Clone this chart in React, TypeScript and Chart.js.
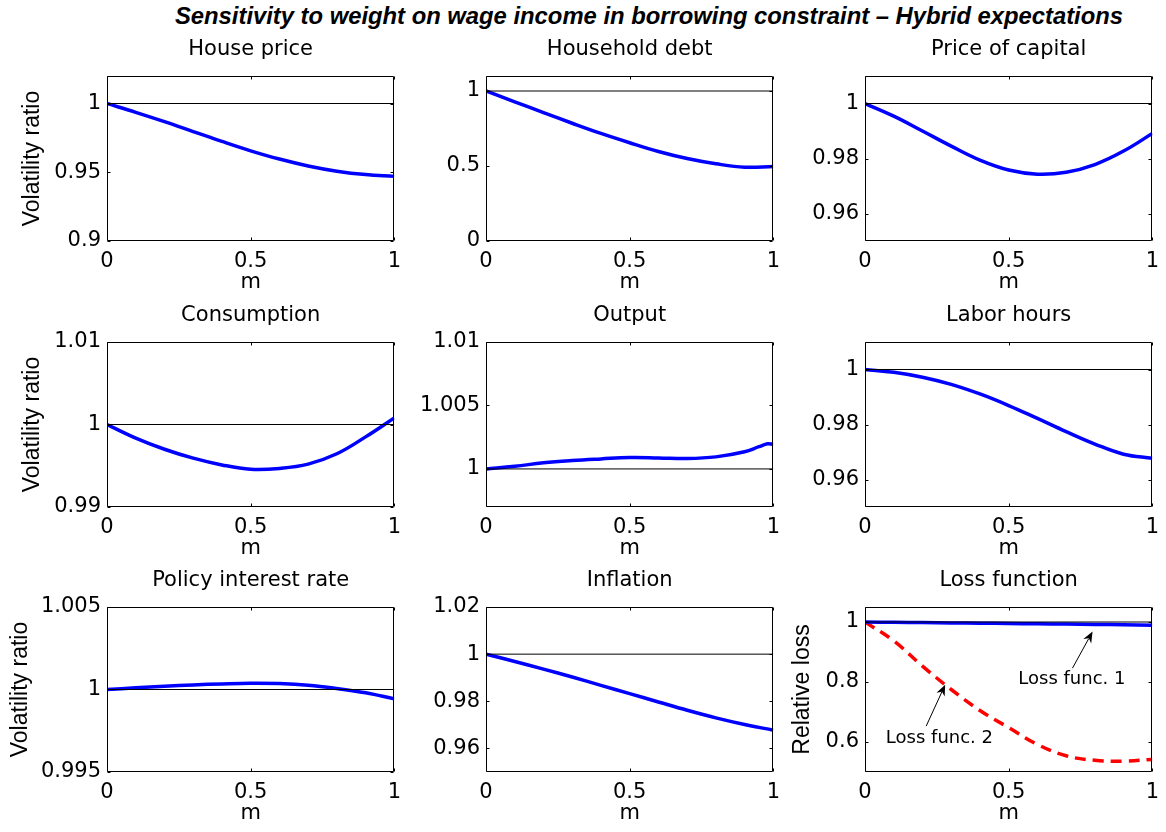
import React, { useEffect, useRef } from "react";
import { Chart, registerables } from "chart.js";

Chart.register(...registerables);

// ---------- data ----------
const M = [0, 0.1, 0.2, 0.3, 0.4, 0.5, 0.6, 0.7, 0.8, 0.9, 1];
const M_OUTPUT = [0, 0.1, 0.2, 0.3, 0.4, 0.5, 0.6, 0.7, 0.8, 0.9, 0.95, 0.98, 1];
const REF_X = [0, 1];
const REF_Y = [1, 1];

const housePrice = [1, 0.9936, 0.9868, 0.9796, 0.9724, 0.9656, 0.9596, 0.9546, 0.9508, 0.9483, 0.947];
const householdDebt = [1, 0.928, 0.856, 0.785, 0.717, 0.655, 0.597, 0.55, 0.515, 0.492, 0.497];
const priceOfCapital = [1, 0.9954, 0.99, 0.9845, 0.9794, 0.9758, 0.9743, 0.975, 0.9778, 0.9827, 0.9891];
const consumption = [1, 0.99835, 0.997, 0.99592, 0.9951, 0.99458, 0.99468, 0.9952, 0.99645, 0.9985, 1.0008];
const output = [1, 1.00021, 1.00048, 1.00066, 1.00079, 1.0009, 1.00087, 1.00082, 1.00095, 1.00135, 1.00175, 1.00198, 1.00193];
const laborHours = [1, 0.999, 0.9972, 0.9946, 0.9911, 0.9869, 0.9822, 0.9774, 0.9729, 0.9692, 0.9677];
const policyRate = [1, 1.0001, 1.0002, 1.00028, 1.00034, 1.00038, 1.00036, 1.00026, 1.00006, 0.9998, 0.99943];
const inflation = [1, 0.9969, 0.99366, 0.99028, 0.98676, 0.98324, 0.97972, 0.9762, 0.97296, 0.97014, 0.96775];
const lossFunc1 = [1, 0.999, 0.998, 0.997, 0.996, 0.995, 0.994, 0.993, 0.992, 0.9905, 0.989];
const lossFunc2 = [1, 0.937, 0.853, 0.775, 0.705, 0.648, 0.592, 0.554, 0.539, 0.536, 0.542];

const X_TICKS = [0, 0.5, 1];
const Y_TICKS_HOUSE = [0.9, 0.95, 1];
const Y_TICKS_DEBT = [0, 0.5, 1];
const Y_TICKS_CAPITAL = [0.96, 0.98, 1];
const Y_TICKS_CONS = [0.99, 1, 1.01];
const Y_TICKS_OUTPUT = [1, 1.005, 1.01];
const Y_TICKS_LABOR = [0.96, 0.98, 1];
const Y_TICKS_POLICY = [0.995, 1, 1.005];
const Y_TICKS_INFL = [0.96, 0.98, 1, 1.02];
const Y_TICKS_LOSS = [0.6, 0.8, 1];

const ANN_TEXT = ["Loss func. 1", "Loss func. 2"];
const ANN_TEXT_POS = [[0.72, 0.809], [0.259, 0.611]];
const ANN_FROM = [[0.722, 0.846], [0.213, 0.653]];
const ANN_TO = [[0.792, 0.968], [0.279, 0.791]];

const MAIN_TITLE = "Sensitivity to weight on wage income in borrowing constraint \u2013 Hybrid expectations";

// ---------- layout ----------
const COL_LEFT = [107, 486, 865];
const ROW_TOP = [76, 342, 607];
const AXIS_W = 107;
const TITLE_H = 50;
const PLOT_W = 288;
const PLOT_H = 165;
const X_AXIS_H = 55;
const RIGHT_PAD = 14;
const CANVAS_W = AXIS_W + PLOT_W + RIGHT_PAD;
const CANVAS_H = TITLE_H + PLOT_H + X_AXIS_H;

const TXT_FONT = "DejaVu Sans";
const YLAB_FONT = "Liberation Sans";
const BLUE = "#0000FF";
const RED = "#FF0000";

type Series = { xs: number[]; ys: number[]; color: string; dash?: number[] };
type PanelCfg = {
  title: string;
  series: Series[];
  yMin: number;
  yMax: number;
  yTicks: number[];
  yLabel?: string;
  yLabelPad?: number;
  row: number;
  col: number;
  annotate?: boolean;
};

const PANELS: PanelCfg[] = [
  { title: "House price", series: [{ xs: M, ys: housePrice, color: BLUE }], yMin: 0.9, yMax: 1.02, yTicks: Y_TICKS_HOUSE, yLabel: "Volatility ratio", yLabelPad: 19, row: 0, col: 0 },
  { title: "Household debt", series: [{ xs: M, ys: householdDebt, color: BLUE }], yMin: 0, yMax: 1.1, yTicks: Y_TICKS_DEBT, row: 0, col: 1 },
  { title: "Price of capital", series: [{ xs: M, ys: priceOfCapital, color: BLUE }], yMin: 0.95, yMax: 1.01, yTicks: Y_TICKS_CAPITAL, row: 0, col: 2 },
  { title: "Consumption", series: [{ xs: M, ys: consumption, color: BLUE }], yMin: 0.99, yMax: 1.01, yTicks: Y_TICKS_CONS, yLabel: "Volatility ratio", yLabelPad: 19, row: 1, col: 0 },
  { title: "Output", series: [{ xs: M_OUTPUT, ys: output, color: BLUE }], yMin: 0.997, yMax: 1.01, yTicks: Y_TICKS_OUTPUT, row: 1, col: 1 },
  { title: "Labor hours", series: [{ xs: M, ys: laborHours, color: BLUE }], yMin: 0.95, yMax: 1.01, yTicks: Y_TICKS_LABOR, row: 1, col: 2 },
  { title: "Policy interest rate", series: [{ xs: M, ys: policyRate, color: BLUE }], yMin: 0.995, yMax: 1.005, yTicks: Y_TICKS_POLICY, yLabel: "Volatility ratio", yLabelPad: 7, row: 2, col: 0 },
  { title: "Inflation", series: [{ xs: M, ys: inflation, color: BLUE }], yMin: 0.95, yMax: 1.02, yTicks: Y_TICKS_INFL, row: 2, col: 1 },
  {
    title: "Loss function",
    series: [
      { xs: M, ys: lossFunc1, color: BLUE },
      { xs: M, ys: lossFunc2, color: RED, dash: [11, 7] },
    ],
    yMin: 0.5, yMax: 1.05, yTicks: Y_TICKS_LOSS, yLabel: "Relative loss", yLabelPad: 31, row: 2, col: 2, annotate: true,
  },
];

const framePlugin = {
  id: "frame",
  afterDatasetsDraw(chart: any) {
    const { ctx, chartArea: a, scales } = chart;
    const L = Math.round(a.left) + 0.5;
    const R = Math.round(a.right) - 0.5;
    const T = Math.round(a.top) + 0.5;
    const B = Math.round(a.bottom) - 0.5;
    ctx.save();
    ctx.strokeStyle = "#000";
    ctx.lineWidth = 1;
    ctx.beginPath();
    ctx.rect(L, T, R - L, B - T);
    const tl = 3;
    scales.x.ticks.forEach((t: any) => {
      const px = Math.round(scales.x.getPixelForValue(t.value)) + 0.5;
      ctx.moveTo(px, B); ctx.lineTo(px, B - tl);
      ctx.moveTo(px, T); ctx.lineTo(px, T + tl);
    });
    scales.y.ticks.forEach((t: any) => {
      const py = Math.round(scales.y.getPixelForValue(t.value)) + 0.5;
      ctx.moveTo(L, py); ctx.lineTo(L + tl, py);
      ctx.moveTo(R, py); ctx.lineTo(R - tl, py);
    });
    ctx.stroke();
    ctx.restore();
  },
};

const annotationPlugin = {
  id: "lossAnnotations",
  afterDatasetsDraw(chart: any) {
    const { ctx, scales } = chart;
    const xs = scales.x;
    const ys = scales.y;
    ctx.save();
    ctx.fillStyle = "#000";
    ctx.strokeStyle = "#000";
    ctx.font = `18px "${TXT_FONT}"`;
    ctx.textAlign = "center";
    ctx.textBaseline = "middle";
    ANN_TEXT.forEach((txt, i) => {
      ctx.fillText(txt, xs.getPixelForValue(ANN_TEXT_POS[i][0]), ys.getPixelForValue(ANN_TEXT_POS[i][1]));
      const x0 = xs.getPixelForValue(ANN_FROM[i][0]);
      const y0 = ys.getPixelForValue(ANN_FROM[i][1]);
      const x1 = xs.getPixelForValue(ANN_TO[i][0]);
      const y1 = ys.getPixelForValue(ANN_TO[i][1]);
      const ang = Math.atan2(y1 - y0, x1 - x0);
      const hl = 11;
      const hw = 4.5;
      const ux = Math.cos(ang), uy = Math.sin(ang);
      const bx = x1 - ux * hl, by = y1 - uy * hl;
      ctx.lineWidth = 1;
      ctx.beginPath();
      ctx.moveTo(x0, y0);
      ctx.lineTo(bx + ux * 3, by + uy * 3);
      ctx.stroke();
      ctx.beginPath();
      ctx.moveTo(x1, y1);
      ctx.lineTo(bx - uy * hw, by + ux * hw);
      ctx.lineTo(x1 - ux * hl * 0.7, y1 - uy * hl * 0.7);
      ctx.lineTo(bx + uy * hw, by - ux * hw);
      ctx.closePath();
      ctx.fill();
    });
    ctx.restore();
  },
};

function Panel({ cfg }: { cfg: PanelCfg }) {
  const ref = useRef<HTMLCanvasElement | null>(null);
  useEffect(() => {
    if (!ref.current) return;
    const datasets: any[] = [
      {
        data: REF_X.map((x, i) => ({ x, y: REF_Y[i] })),
        borderColor: "#000",
        borderWidth: 1,
        pointRadius: 0,
        tension: 0,
      },
      ...cfg.series.map((s) => ({
        data: s.xs.map((x, i) => ({ x, y: s.ys[i] })),
        borderColor: s.color,
        borderWidth: 3.5,
        borderDash: s.dash || [],
        pointRadius: 0,
        tension: 0.4,
        fill: false,
      })),
    ];
    const tickFont = { family: TXT_FONT, size: 21, weight: "normal" as const };
    const chart = new Chart(ref.current, {
      type: "line",
      data: { datasets },
      plugins: cfg.annotate ? [framePlugin, annotationPlugin] : [framePlugin],
      options: {
        responsive: false,
        animation: false,
        events: [],
        layout: { padding: { left: 0, right: RIGHT_PAD, top: 0, bottom: 0 } },
        plugins: {
          legend: { display: false },
          tooltip: { enabled: false },
          title: {
            display: true,
            text: cfg.title,
            fullSize: false,
            color: "#000",
            font: tickFont,
            padding: { top: TITLE_H - 25.2 - 13.5, bottom: 13.5 },
          },
        },
        scales: {
          x: {
            type: "linear",
            min: 0,
            max: 1,
            grid: { display: false, drawTicks: false },
            border: { display: false },
            afterBuildTicks: (s: any) => {
              s.ticks = X_TICKS.map((v) => ({ value: v }));
            },
            afterFit: (s: any) => {
              s.height = X_AXIS_H;
            },
            ticks: {
              color: "#000",
              font: tickFont,
              padding: 8,
              maxRotation: 0,
              autoSkip: false,
              callback: (v: any) => String(v),
            },
            title: {
              display: true,
              text: "m",
              color: "#000",
              font: tickFont,
              padding: { top: 0, bottom: 1 },
            },
          },
          y: {
            type: "linear",
            min: cfg.yMin,
            max: cfg.yMax,
            grid: { display: false, drawTicks: false },
            border: { display: false },
            afterBuildTicks: (s: any) => {
              s.ticks = cfg.yTicks.map((v) => ({ value: v }));
            },
            afterFit: (s: any) => {
              s.width = AXIS_W;
            },
            ticks: {
              color: "#000",
              font: tickFont,
              padding: 6,
              autoSkip: false,
              callback: (v: any) => String(v),
            },
            title: {
              display: !!cfg.yLabel,
              text: cfg.yLabel || "",
              color: "#000",
              font: { family: YLAB_FONT, size: 23, weight: "normal" },
              padding: { top: cfg.yLabelPad || 0, bottom: 0 },
            },
          },
        },
      } as any,
    });
    return () => chart.destroy();
  }, [cfg]);
  return (
    <canvas
      ref={ref}
      width={CANVAS_W}
      height={CANVAS_H}
      style={{
        position: "absolute",
        left: COL_LEFT[cfg.col] - AXIS_W,
        top: ROW_TOP[cfg.row] - TITLE_H,
        width: CANVAS_W,
        height: CANVAS_H,
      }}
    />
  );
}

export default function App() {
  return (
    <div
      style={{
        position: "absolute",
        left: 0,
        top: 0,
        width: 1166,
        height: 832,
        overflow: "hidden",
        background: "#fff",
      }}
    >
      <div
        style={{
          position: "absolute",
          left: 149,
          top: 2,
          width: 1000,
          height: 28,
          lineHeight: "28px",
          textAlign: "center",
          whiteSpace: "nowrap",
          fontFamily: '"Liberation Sans", Arial, sans-serif',
          fontSize: 23.8,
          fontWeight: "bold",
          fontStyle: "italic",
          color: "#000",
        }}
      >
        {MAIN_TITLE}
      </div>
      {PANELS.map((p, i) => (
        <Panel key={i} cfg={p} />
      ))}
    </div>
  );
}
